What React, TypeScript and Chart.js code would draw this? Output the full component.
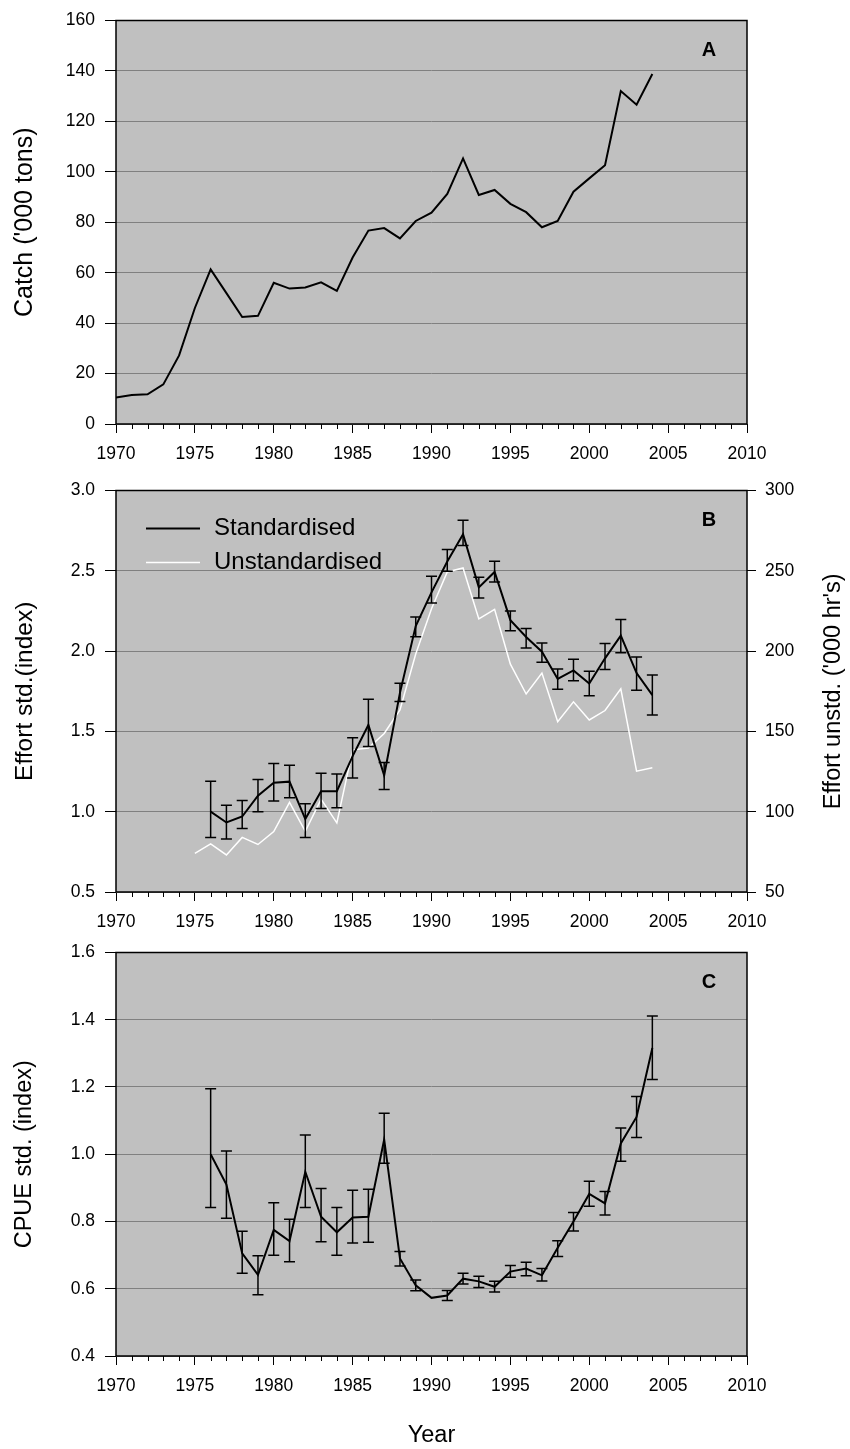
import React, { useEffect, useRef } from 'react';
import { Chart, registerables } from 'chart.js';

Chart.register(...registerables);

const FONT = '"Liberation Sans", Arial, Helvetica, sans-serif';
const TICK_SIZE = 17.5;
const TITLE_SIZE = 23.5;
const W = 850;

// ---------- Panel A: catch ----------
const catchYears = [
  1970, 1971, 1972, 1973, 1974, 1975, 1976, 1977, 1978, 1979,
  1980, 1981, 1982, 1983, 1984, 1985, 1986, 1987, 1988, 1989,
  1990, 1991, 1992, 1993, 1994, 1995, 1996, 1997, 1998, 1999,
  2000, 2001, 2002, 2003, 2004,
];
const catchTons = [
  10.5, 11.5, 11.8, 15.7, 27.2, 46, 61.3, 51.9, 42.4, 42.9,
  56, 53.7, 54.1, 56.2, 52.8, 66, 76.7, 77.7, 73.6, 80.5,
  83.8, 91.2, 105.3, 90.8, 92.8, 87.3, 84, 78, 80.5, 92.1,
  97.4, 102.6, 132, 126.6, 138.8,
];

// ---------- Panel B: effort ----------
const stdYears = [
  1976, 1977, 1978, 1979, 1980, 1981, 1982, 1983, 1984, 1985,
  1986, 1987, 1988, 1989, 1990, 1991, 1992, 1993, 1994, 1995,
  1996, 1997, 1998, 1999, 2000, 2001, 2002, 2003, 2004,
];
const effortStd = [
  1.0, 0.933, 0.97, 1.1, 1.18, 1.187, 0.954, 1.128, 1.128, 1.346,
  1.54, 1.226, 1.74, 2.156, 2.366, 2.558, 2.728, 2.397, 2.493, 2.193,
  2.088, 1.996, 1.827, 1.88, 1.798, 1.955, 2.096, 1.863, 1.726,
];
const effortStdLow = [
  0.84, 0.83, 0.895, 1.0, 1.066, 1.087, 0.84, 1.02, 1.025, 1.21,
  1.406, 1.138, 1.686, 2.09, 2.3, 2.497, 2.657, 2.33, 2.43, 2.127,
  2.02, 1.93, 1.763, 1.816, 1.722, 1.886, 1.99, 1.757, 1.602,
];
const effortStdHigh = [
  1.19, 1.04, 1.07, 1.2, 1.3, 1.29, 1.05, 1.24, 1.234, 1.46,
  1.7, 1.307, 1.8, 2.213, 2.466, 2.632, 2.814, 2.46, 2.56, 2.25,
  2.14, 2.05, 1.888, 1.95, 1.874, 2.047, 2.197, 1.964, 1.851,
];
const unstdYears = [
  1975, 1976, 1977, 1978, 1979, 1980, 1981, 1982, 1983, 1984,
  1985, 1986, 1987, 1988, 1989, 1990, 1991, 1992, 1993, 1994,
  1995, 1996, 1997, 1998, 1999, 2000, 2001, 2002, 2003, 2004,
];
const effortUnstd = [
  74.1, 80, 73.1, 84, 79.6, 87.6, 105.8, 87.8, 107.8, 93,
  138.5, 139.7, 148.7, 163.4, 198.2, 226.4, 249.3, 251.8, 220, 226,
  191.9, 173.3, 186.3, 156, 168.4, 157.1, 163, 176.5, 125.2, 127.3,
];

// ---------- Panel C: CPUE ----------
const cpueYears = stdYears;
const cpue = [
  1.0, 0.91, 0.705, 0.641, 0.775, 0.742, 0.948, 0.814, 0.768, 0.812,
  0.814, 1.044, 0.69, 0.61, 0.573, 0.58, 0.63, 0.622, 0.606, 0.651,
  0.66, 0.64, 0.722, 0.8, 0.882, 0.854, 1.032, 1.111, 1.316,
];
const cpueLow = [
  0.842, 0.81, 0.646, 0.582, 0.7, 0.68, 0.842, 0.74, 0.7, 0.736,
  0.738, 0.973, 0.668, 0.594, null, 0.565, 0.614, 0.604, 0.59, 0.634,
  0.639, 0.623, 0.696, 0.772, 0.845, 0.819, 0.979, 1.05, 1.222,
];
const cpueHigh = [
  1.195, 1.01, 0.771, 0.698, 0.856, 0.807, 1.057, 0.898, 0.842, 0.893,
  0.896, 1.122, 0.711, 0.626, null, 0.595, 0.646, 0.637, 0.622, 0.669,
  0.679, 0.66, 0.743, 0.827, 0.92, 0.889, 1.078, 1.172, 1.411,
];

const xTicks = [1970, 1975, 1980, 1985, 1990, 1995, 2000, 2005, 2010];

const pts = (xs: number[], ys: number[]) => xs.map((x, i) => ({ x, y: ys[i] }));

function framePlugin(letter: string) {
  return {
    id: 'frame' + letter,
    beforeDraw(chart: any) {
      const { ctx, chartArea: a } = chart;
      ctx.save();
      ctx.fillStyle = '#c0c0c0';
      ctx.fillRect(a.left, a.top, a.right - a.left, a.bottom - a.top);
      ctx.restore();
    },
    afterDraw(chart: any) {
      const { ctx, chartArea: a } = chart;
      const xs = chart.scales.x;
      ctx.save();
      ctx.strokeStyle = '#000';
      ctx.lineWidth = 1.5;
      ctx.strokeRect(a.left, a.top, a.right - a.left, a.bottom - a.top);
      ctx.lineWidth = 1;
      ctx.beginPath();
      for (let yr = xs.min; yr <= xs.max; yr++) {
        if (yr % 5 === 0) continue;
        const px = Math.round(xs.getPixelForValue(yr)) + 0.5;
        ctx.moveTo(px, a.bottom);
        ctx.lineTo(px, a.bottom + 5);
      }
      ctx.stroke();
      ctx.fillStyle = '#000';
      ctx.font = `bold 20px ${FONT}`;
      ctx.textAlign = 'center';
      ctx.textBaseline = 'middle';
      ctx.fillText(letter, a.right - 38, a.top + 30);
      ctx.restore();
    },
  };
}

function errorBarPlugin(years: number[], low: (number | null)[], high: (number | null)[], axisId: string) {
  return {
    id: 'errbars',
    afterDatasetsDraw(chart: any) {
      const { ctx } = chart;
      const xs = chart.scales.x;
      const ys = chart.scales[axisId];
      ctx.save();
      ctx.strokeStyle = '#000';
      ctx.lineWidth = 1.5;
      ctx.beginPath();
      years.forEach((yr, i) => {
        const lo = low[i];
        const hi = high[i];
        if (lo == null || hi == null) return;
        const px = xs.getPixelForValue(yr);
        const pl = ys.getPixelForValue(lo);
        const ph = ys.getPixelForValue(hi);
        ctx.moveTo(px, ph);
        ctx.lineTo(px, pl);
        ctx.moveTo(px - 5.5, ph);
        ctx.lineTo(px + 5.5, ph);
        ctx.moveTo(px - 5.5, pl);
        ctx.lineTo(px + 5.5, pl);
      });
      ctx.stroke();
      ctx.restore();
    },
  };
}

const legendPlugin = {
  id: 'customLegend',
  afterDraw(chart: any) {
    const { ctx, chartArea: a } = chart;
    ctx.save();
    ctx.font = `24px ${FONT}`;
    ctx.textAlign = 'left';
    ctx.textBaseline = 'middle';
    chart.data.datasets.forEach((ds: any, i: number) => {
      const y = a.top + 38 + i * 34;
      ctx.strokeStyle = ds.borderColor;
      ctx.lineWidth = ds.borderWidth;
      ctx.beginPath();
      ctx.moveTo(a.left + 30, y);
      ctx.lineTo(a.left + 84, y);
      ctx.stroke();
      ctx.fillStyle = '#000';
      ctx.fillText(ds.label, a.left + 98, y);
    });
    ctx.restore();
  },
};

const rightTitlePlugin = {
  id: 'rightTitle',
  afterDraw(chart: any) {
    const { ctx, chartArea: a } = chart;
    ctx.save();
    ctx.translate(834, (a.top + a.bottom) / 2);
    ctx.rotate(-Math.PI / 2);
    ctx.font = `${TITLE_SIZE}px ${FONT}`;
    ctx.fillStyle = '#000';
    ctx.textAlign = 'center';
    ctx.textBaseline = 'middle';
    ctx.fillText("Effort unstd. ('000 hr's)", 0, 0);
    ctx.restore();
  },
};

function xScale(height: number, title?: string) {
  return {
    type: 'linear',
    min: 1970,
    max: 2010,
    afterBuildTicks: (s: any) => {
      s.ticks = xTicks.map((v) => ({ value: v }));
    },
    ticks: {
      callback: (v: any) => String(v),
      font: { family: FONT, size: TICK_SIZE },
      color: '#000',
      padding: 10.5,
      maxRotation: 0,
      autoSkip: false,
    },
    grid: { drawOnChartArea: false, tickLength: 9, tickColor: '#000', lineWidth: 1 },
    border: { display: false },
    title: title
      ? {
          display: true,
          text: title,
          color: '#000',
          font: { family: FONT, size: TITLE_SIZE, lineHeight: 1 },
          padding: { top: 0, bottom: 1.25 },
        }
      : { display: false },
    afterFit: (s: any) => {
      s.height = height;
    },
  };
}

function yScale(min: number, max: number, step: number, title: string, titleSize: number, fmt: (v: number) => string) {
  return {
    type: 'linear',
    position: 'left',
    min,
    max,
    ticks: {
      stepSize: step,
      callback: (v: any) => fmt(Number(v)),
      font: { family: FONT, size: TICK_SIZE },
      color: '#000',
      padding: 10,
    },
    grid: { color: '#808080', tickColor: '#000', tickLength: 11, lineWidth: 1 },
    border: { display: false },
    title: {
      display: true,
      text: title,
      color: '#000',
      font: { family: FONT, size: titleSize, lineHeight: 1 },
      padding: { top: 25 - titleSize / 2, bottom: 0 },
    },
    afterFit: (s: any) => {
      s.width = 116;
    },
  };
}

const baseOptions = {
  animation: false,
  responsive: false,
  maintainAspectRatio: false,
  events: [],
  plugins: { legend: { display: false }, tooltip: { enabled: false } },
};

const configA = () => ({
  type: 'line',
  data: {
    datasets: [
      {
        label: 'Catch',
        data: pts(catchYears, catchTons),
        borderColor: '#000',
        borderWidth: 2,
        pointRadius: 0,
        tension: 0,
      },
    ],
  },
  options: {
    ...baseOptions,
    layout: { padding: { top: 16, right: 103, left: 0, bottom: 0 } },
    scales: {
      x: xScale(46),
      y: yScale(0, 160, 20, "Catch ('000 tons)", 25, (v) => String(v)),
    },
  },
  plugins: [framePlugin('A')],
});

const configB = () => ({
  type: 'line',
  data: {
    datasets: [
      {
        label: 'Standardised',
        data: pts(stdYears, effortStd),
        borderColor: '#000',
        borderWidth: 2,
        pointRadius: 0,
        tension: 0,
        yAxisID: 'y',
      },
      {
        label: 'Unstandardised',
        data: pts(unstdYears, effortUnstd),
        borderColor: '#ffffff',
        borderWidth: 1.5,
        pointRadius: 0,
        tension: 0,
        yAxisID: 'y1',
      },
    ],
  },
  options: {
    ...baseOptions,
    layout: { padding: { top: 14, right: 0, left: 0, bottom: 0 } },
    scales: {
      x: xScale(40),
      y: yScale(0.5, 3.0, 0.5, 'Effort std.(index)', 24.5, (v) => v.toFixed(1)),
      y1: {
        type: 'linear',
        position: 'right',
        min: 50,
        max: 300,
        ticks: {
          stepSize: 50,
          callback: (v: any) => String(v),
          font: { family: FONT, size: TICK_SIZE },
          color: '#000',
          padding: 9,
        },
        grid: { drawOnChartArea: false, tickColor: '#000', tickLength: 9, lineWidth: 1 },
        border: { display: false },
        afterFit: (s: any) => {
          s.width = 103;
        },
      },
    },
  },
  plugins: [
    framePlugin('B'),
    errorBarPlugin(stdYears, effortStdLow, effortStdHigh, 'y'),
    legendPlugin,
    rightTitlePlugin,
  ],
});

const configC = () => ({
  type: 'line',
  data: {
    datasets: [
      {
        label: 'CPUE',
        data: pts(cpueYears, cpue),
        borderColor: '#000',
        borderWidth: 2,
        pointRadius: 0,
        tension: 0,
      },
    ],
  },
  options: {
    ...baseOptions,
    layout: { padding: { top: 16, right: 103, left: 0, bottom: 0 } },
    scales: {
      x: xScale(93, 'Year'),
      y: yScale(0.4, 1.6, 0.2, 'CPUE std. (index)', TITLE_SIZE, (v) => v.toFixed(1)),
    },
  },
  plugins: [framePlugin('C'), errorBarPlugin(cpueYears, cpueLow, cpueHigh, 'y')],
});

function Panel({ top, height, config }: { top: number; height: number; config: () => any }) {
  const ref = useRef<HTMLCanvasElement | null>(null);
  useEffect(() => {
    if (!ref.current) return;
    const chart = new Chart(ref.current, config());
    return () => chart.destroy();
  }, []);
  return (
    <canvas
      ref={ref}
      width={W}
      height={height}
      style={{ position: 'absolute', left: 0, top, width: W, height }}
    />
  );
}

export default function App() {
  return (
    <div style={{ position: 'absolute', left: 0, top: 0, width: W, height: 1449, background: '#fff' }}>
      <Panel top={0} height={470} config={configA} />
      <Panel top={470} height={462} config={configB} />
      <Panel top={932} height={517} config={configC} />
    </div>
  );
}
